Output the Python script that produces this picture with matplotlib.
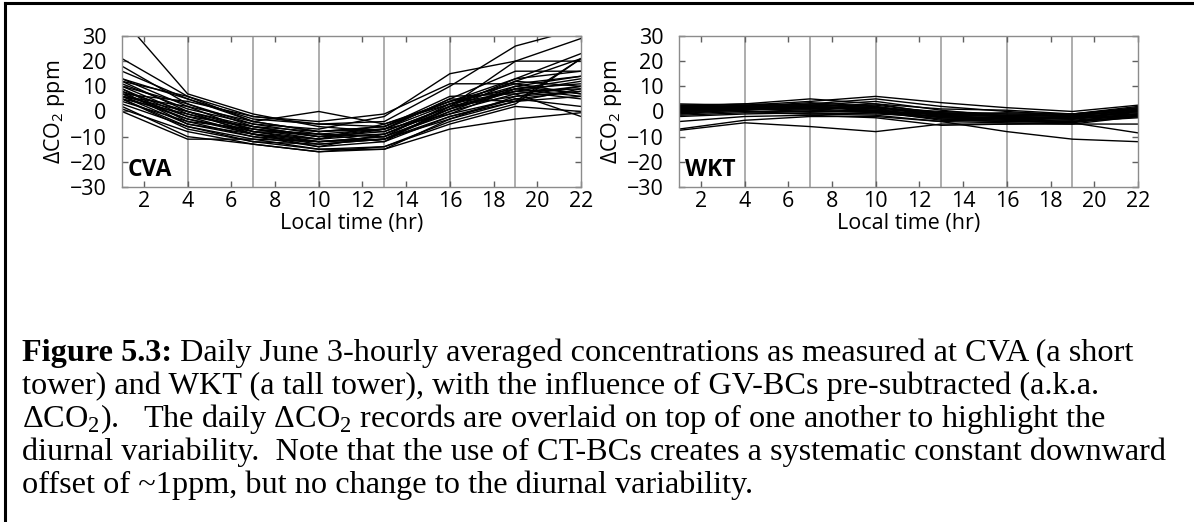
import numpy as np
import matplotlib
matplotlib.use('Agg')
import matplotlib.pyplot as plt
from matplotlib.lines import Line2D

plt.rcParams['mathtext.fontset'] = 'custom'
plt.rcParams['mathtext.rm'] = 'Liberation Serif'
plt.rcParams['mathtext.sf'] = 'Open Sans'

hours = [1, 4, 7, 10, 13, 16, 19, 22]

# daily 3-hourly dCO2 records, CVA (short tower)
cva = [
    [37, 7, -1, -6, -8, 2, 20, 29],
    [21, 6, -4, -8, -6, 4, 13, 23],
    [18, 3, -6, -10, -9, 1, 12, 21],
    [16, 5, -3, -5, -4, 10, 26, 33],
    [13, 2, -8, -12, -10, 3, 10, 14],
    [12, 0, -7, -9, -7, 5, 16, 16],
    [11, 1, -5, -7, -2, 15, 20, 20],
    [10, -1, -8, -11, -9, 2, 8, 9],
    [9, -2, -9, -13, -11, 0, 7, 10],
    [8, 0, -6, -8, -6, 4, 9, 11],
    [7, -3, -9, -12, -10, -1, 5, 8],
    [7, 4, -2, -4, -1, 11, 11, 7],
    [6, -5, -10, -14, -12, -2, 4, 6],
    [6, 2, -4, 0, -5, 3, 8, 5],
    [5, -6, -11, -15, -14, -4, 3, 21],
    [5, -1, -7, -10, -8, 2, 6, 8],
    [4, -4, -10, -12, -11, 1, 9, 13],
    [3, -6, -12, -15, -15, -3, 4, 9],
    [1, -8, -13, -16, -15, -7, -3, -0.5],
    [0, -11, -11, -12, -11, -2, 5, 2],
    [2, -10, -13, -16, -14, -5, 2, 0],
    [8, -5, -9, -11, -7, 3, 12, 10],
    [12, 6, -2, -5, -6, 6, 7, -2],
    [6, -3, -8, -9, -10, 0, 10, 7],
    [7, -2, -6, -10, -7, 5, 4, 21],
    [10, 3, -5, -9, -12, 2, 13, 16],
    [13, 5, -4, -8, -7, -1, 9, 6],
    [5, -7, -12, -13, -11, -3, 6, 10],
    [9, -4, -7, -11, -5, 4, 11, 14],
    [6, 0, -9, -14, -9, 1, 8, 12],
]

# WKT (tall tower)
wkt = [
    [-7.5, -4.5, -6, -8, -5, -5, -5, -5],
    [-7, -3.5, -2, -2, -4, -8, -11, -12],
    [-4, -2, -1.5, -2.5, -5.5, -5, -4.5, -8.5],
    [2, 3, 5, 3, 1, 0.5, -1, 1],
    [1.5, 2.5, 4, 6, 3.5, 1.5, 0, 2.5],
    [0.5, 1.5, 3, 5, 2, 0, -1.5, 0],
    [1, 2, 2, 3, -1, -2, -3, -1],
    [0, 1, 1, 2, -2, -3, -2.5, -2],
    [-1, 0, 0, 0, -3, -4, -4, -2],
    [2.5, 2, 1.5, 1, -1, -1.5, -2, 1],
    [1, 1.5, 2.5, 0, -2, -2.5, -3, 0.5],
    [0.5, 1, 0.5, -0.5, -3, -3.5, -2, -1],
    [-0.5, 0.5, 1.5, 1, -2.5, -3, -3.5, -1.5],
    [2, 2, 3, 1.5, 0, -1, -1, 1.5],
    [1.5, 1, 0, 0.5, -1.5, -2, -2.5, 0],
    [0, 0.5, 2, 2.5, -0.5, -1.5, -2, -0.5],
    [-1.5, -0.5, -1, -1.5, -4, -4.5, -5, -2],
    [3, 2.5, 2, 0, -1, -0.5, -1, 2],
    [1, 0, -1, -0.5, -2, -3, -4, -1],
    [2, 1.5, 1, 0, -3.5, -4, -4.5, -1.5],
    [0, 1, 2.5, 4, 0.5, -2, -3, 0],
    [-2, -1, -0.5, -1, -2, -2.5, -3, -1],
    [1.5, 2, 3.5, 2, -1.5, -3, -2, 1],
    [0.5, 1.5, 1, 1.5, -0.5, -1, -1.5, 0.5],
    [-1, 1, 2, 0.5, -2.5, -3.5, -4, -2.5],
    [2.5, 3, 2.5, 1.5, -1, -2, -1.5, 1.5],
]

xticks = list(range(2, 23, 2))
yticks = [-30, -20, -10, 0, 10, 20, 30]
grid_x = [4, 7, 10, 13, 16, 19]

fig = plt.figure(figsize=(11.94, 5.22), dpi=100)

sans = 'Open Sans'
lab_size = 15.5
panels = [(0.1022, cva, 'CVA'), (0.5687, wkt, 'WKT')]
for left, data, name in panels:
    ax = fig.add_axes([left, 0.6418, 0.3844, 0.2893])
    for gx in grid_x:
        ax.axvline(gx, color='#a0a0a0', lw=1.2, zorder=1)
    for rec in data:
        ax.plot(hours, rec, color='black', lw=1.0, zorder=2)
    ax.set_xlim(1, 22)
    ax.set_ylim(-30, 30)
    ax.set_xticks(xticks)
    ax.set_yticks(yticks)
    ax.set_yticklabels([str(v).replace('-', '\u2212') for v in yticks])
    ax.tick_params(direction='in', length=4, width=1, color='#606060',
                   top=True, right=True, labelsize=lab_size)
    ax.tick_params(axis='y', pad=11)
    ax.tick_params(axis='x', pad=3)
    for lab in ax.get_xticklabels() + ax.get_yticklabels():
        lab.set_family(sans)
    for s in ax.spines.values():
        s.set_color('#8c8c8c')
        s.set_linewidth(1.0)
    ax.set_xlabel('Local time (hr)', family=sans, fontsize=lab_size, labelpad=0.5)
    ax.set_ylabel('\u0394CO$_\\mathsf{2}$ ppm', family=sans, fontsize=lab_size, labelpad=2)
    ax.text(0.012, 0.03, name, transform=ax.transAxes, family=sans,
            fontweight='bold', fontsize=16.5, va='bottom', ha='left')

# frame of the figure box (top and left edges)
fig.add_artist(Line2D([5 / 1194, 1], [1 - 3 / 522, 1 - 3 / 522],
                      transform=fig.transFigure, color='black', lw=2.2))
fig.add_artist(Line2D([5 / 1194, 5 / 1194], [0, 1 - 3 / 522],
                      transform=fig.transFigure, color='black', lw=2.2))

serif = 'Liberation Serif'
cap_size = 23.2
x0 = 22 / 1194
base = [361, 394, 427, 460, 493]
lines = [
    ' Daily June 3-hourly averaged concentrations as measured at CVA (a short',
    'tower) and WKT (a tall tower), with the influence of GV-BCs pre-subtracted (a.k.a.',
    '\u0394CO$_2$).   The daily \u0394CO$_2$ records are overlaid on top of one another to highlight the',
    'diurnal variability.  Note that the use of CT-BCs creates a systematic constant downward',
    'offset of ~1ppm, but no change to the diurnal variability.',
]
bold = fig.text(x0, 1 - base[0] / 522, 'Figure 5.3:', family=serif, fontweight='bold',
                fontsize=cap_size, va='baseline', ha='left')
fig.canvas.draw()
bb = bold.get_window_extent(fig.canvas.get_renderer())
fig.text(bb.x1 / fig.bbox.width, 1 - base[0] / 522, lines[0], family=serif,
         fontsize=cap_size, va='baseline', ha='left')
for y, t in zip(base[1:], lines[1:]):
    fig.text(x0, 1 - y / 522, t, family=serif, fontsize=cap_size,
             va='baseline', ha='left')

fig.savefig('out.png', dpi=100)
